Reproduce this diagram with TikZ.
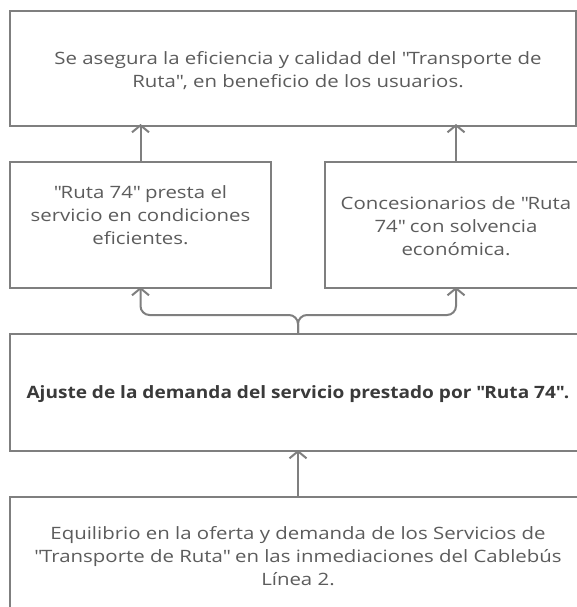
\documentclass[tikz,border=0pt]{standalone}
\usepackage{fontspec}
\setmainfont{Open Sans}[FakeStretch=1.2]
\newfontfamily\boldfam{Open Sans}[FakeStretch=1.12]
\usetikzlibrary{arrows.meta}
\definecolor{linegray}{HTML}{7F7F7F}
\definecolor{textgray}{HTML}{5C5C5C}
\definecolor{boldgray}{HTML}{3A3A3A}
\newcommand\qt{\textquotedbl}
\tikzset{
  box/.style={draw=linegray, line width=2pt, fill=white, rectangle, inner sep=0pt},
  txt/.style={text=textgray, align=center, inner sep=0pt, font=\fontsize{17}{23}\selectfont},
  btxt/.style={text=boldgray, align=center, inner sep=0pt, font=\boldfam\fontsize{17}{23}\selectfont\bfseries},
  conn/.style={draw=linegray, line width=2pt, -{Straight Barb[length=7pt,width=17pt,line width=2pt]}},
}
\begin{document}
\begin{tikzpicture}[x=1pt,y=-1pt]
\useasboundingbox (0,0) rectangle (577,607);
\clip (0,0) rectangle (577,607);
\fill[white] (0,0) rectangle (577,607);
% boxes
\node[box, minimum width=566pt, minimum height=115pt] (top) at (293,68.5) {};
\node[box, minimum width=261pt, minimum height=126pt] (left) at (140.5,225) {};
\node[box, minimum width=262pt, minimum height=126pt] (right) at (456,225) {};
\node[box, minimum width=576pt, minimum height=117pt] (aj) at (298,392.5) {};
\node[box, minimum width=576pt, minimum height=123pt] (bot) at (298,558.5) {};
% texts
\node[txt] (ttop) at (298,70.5) {Se asegura la eficiencia y calidad del \qt Transporte de\\Ruta\qt, en beneficio de los usuarios.};
\node[txt] (tleft) at (140.5,215) {\qt Ruta 74\qt{} presta el\\servicio en condiciones\\eficientes.};
\node[txt] (tright) at (456,226) {Concesionarios de \qt Ruta\\74\qt{} con solvencia\\económica.};
\node[btxt] (taj) at (298,394) {Ajuste de la demanda del servicio prestado por \qt Ruta 74\qt.};
\node[txt] (tbot) at (298,556) {Equilibrio en la oferta y demanda de los Servicios de\\\qt Transporte de Ruta\qt{} en las inmediaciones del Cablebús\\Línea 2.};
% connectors
\draw[conn] (left.north) -- ([yshift=3pt]left.north |- top.south);
\draw[conn] (right.north) -- ([yshift=3pt]right.north |- top.south);
\draw[conn, rounded corners=9pt] (aj.north) -- ++(0,-18) -| ([yshift=2pt]left.south);
\draw[conn, rounded corners=9pt] (aj.north) -- ++(0,-18) -| ([yshift=2pt]right.south);
\draw[conn] (bot.north) -- ([yshift=2pt]aj.south);
\end{tikzpicture}
\end{document}
